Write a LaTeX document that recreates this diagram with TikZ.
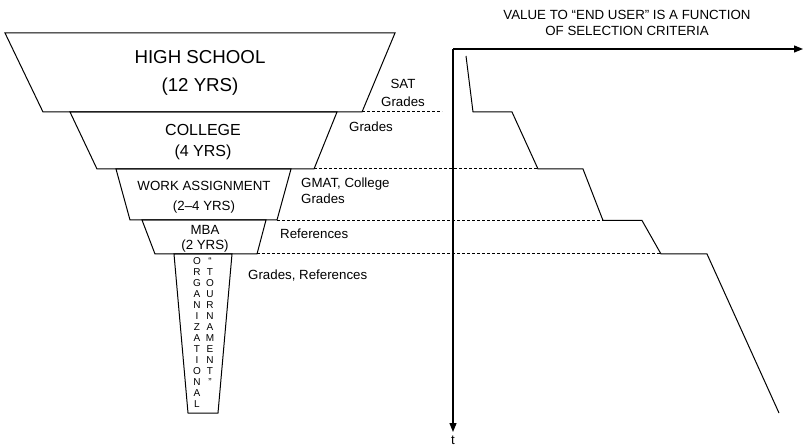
\documentclass[tikz,border=0pt]{standalone}
\usepackage{fontspec}
\setmainfont{Liberation Sans}
\usetikzlibrary{arrows.meta}
\begin{document}
\begin{tikzpicture}[x=1pt,y=-1pt,
  tier/.style={draw=black,line width=1pt,line join=miter},
  lbl/.style={inner sep=0pt,font=\fontsize{13.3}{16}\selectfont},
  toplbl/.style={inner sep=0pt,align=center,font=\fontsize{13.3}{15.5}\selectfont},
  cut/.style={dashed,dash pattern=on 3pt off 2pt,line width=1pt},
  axis/.style={line width=1.2pt,-{Triangle[length=9pt,width=7pt]}},
  curve/.style={line width=1pt,line join=miter},
  stack/.style={inner sep=0pt,align=center,font=\fontsize{10}{11}\selectfont}]
\useasboundingbox (0,0) rectangle (803,446);
\fill[white] (0,0) rectangle (803,446);

% funnel tiers
\draw[tier] (5,33) -- (395,33) -- (362,112) -- (43,112) -- cycle;
\draw[tier] (70,112) -- (337,112) -- (314,169) -- (97,169) -- cycle;
\draw[tier] (116,169) -- (291,169) -- (277,220) -- (130,220) -- cycle;
\draw[tier] (142,220) -- (266,220) -- (257,254) -- (155,254) -- cycle;
\draw[tier] (174,254) -- (232,254) -- (218,413) -- (188,413) -- cycle;

\coordinate (hsR) at (362,112);
\coordinate (coR) at (314,169);
\coordinate (waR) at (277,220.5);
\coordinate (mbR) at (257,254);

% tier texts
\node[inner sep=0pt,font=\fontsize{18.7}{22}\selectfont] (hs1) at (200,57) {HIGH SCHOOL};
\node[inner sep=0pt,font=\fontsize{18.7}{22}\selectfont] (hs2) at (200,87) {(12 YRS)};
\node[inner sep=0pt,font=\fontsize{16}{19}\selectfont] (co1) at (203,130) {COLLEGE};
\node[inner sep=0pt,font=\fontsize{16}{19}\selectfont] (co2) at (203,152) {(4 YRS)};
\node[lbl] (wa1) at (204,186) {WORK ASSIGNMENT};
\node[lbl] (wa2) at (204,207) {(2–4 YRS)};
\node[lbl] (mb1) at (205,230) {MBA};
\node[lbl] (mb2) at (205,246) {(2 YRS)};
\node[stack,anchor=north] (org) at (197,257) {O\\R\\G\\A\\N\\I\\Z\\A\\T\\I\\O\\N\\A\\L};
\node[stack,anchor=north] (tour) at (210,257) {“\\T\\O\\U\\R\\N\\A\\M\\E\\N\\T\\”};

% selection criteria labels
\node[lbl] (sat) at (403,84) {SAT};
\node[lbl] (satg) at (403,102) {Grades};
\node[lbl] (cog) at (371,127) {Grades};
\node[lbl,anchor=west] (gm1) at (301,184) {GMAT, College};
\node[lbl,anchor=west] (gm2) at (301,199) {Grades};
\node[lbl,anchor=west] (ref) at (280,234) {References};
\node[lbl,anchor=west] (grr) at (248,276) {Grades, References};

% value axis
\coordinate (org0) at (453,49);
\coordinate (xend) at (803,49);
\coordinate (yend) at (453,432);
\draw[axis] (org0) -- (xend);
\draw[axis] (org0) -- (yend);
\node[lbl,anchor=north] (t) at (453,435.5) {t};
\node[toplbl] (title) at (627,23) {VALUE TO “END USER” IS A FUNCTION\\OF SELECTION CRITERIA};

% value curve
\coordinate (c0) at (466,56);
\coordinate (c1) at (473,112);
\coordinate (c2) at (512,112);
\coordinate (c3) at (538,169);
\coordinate (c4) at (583,169);
\coordinate (c5) at (603,220.5);
\coordinate (c6) at (642,220.5);
\coordinate (c7) at (661,254);
\coordinate (c8) at (707,254);
\coordinate (c9) at (779,413);
\draw[curve] (c0) -- (c1) -- (c2) -- (c3) -- (c4) -- (c5) -- (c6) -- (c7) -- (c8) -- (c9);

% selection cut-off lines
\coordinate (d1) at (442,112);
\draw[cut] (hsR) -- (d1);
\draw[cut] (coR) -- (c3);
\draw[cut] (waR) -- (c5);
\draw[cut] (mbR) -- (c7);
\end{tikzpicture}
\end{document}
